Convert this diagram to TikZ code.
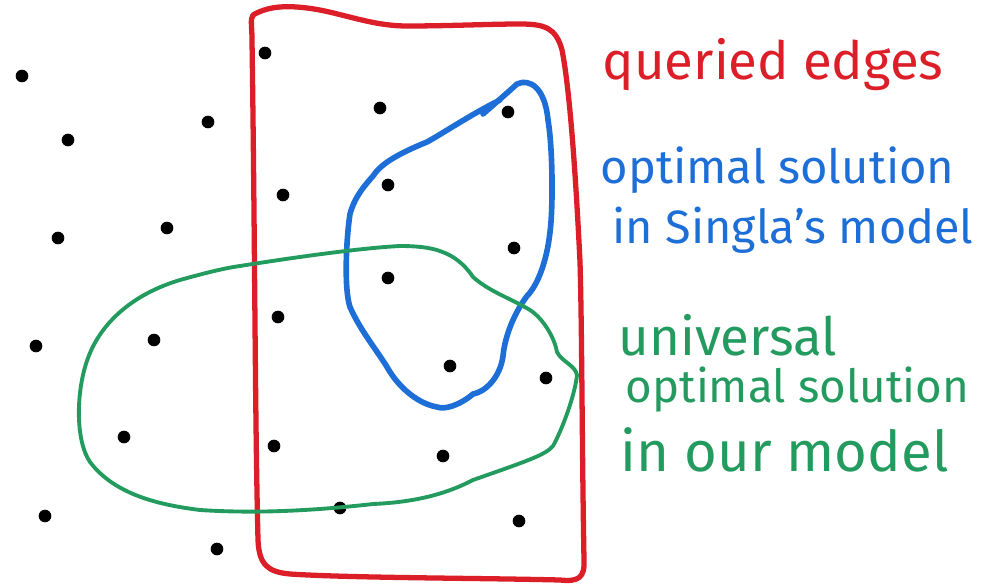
\documentclass[tikz,border=0pt]{standalone}
\usepackage{fontspec}
\setmainfont{Fira Sans}
\usepackage{tikz}
\usetikzlibrary{positioning}
\definecolor{queryRed}{RGB}{220,30,40}
\definecolor{singlaBlue}{RGB}{30,110,215}
\definecolor{ourGreen}{RGB}{35,155,95}

\tikzset{
  pt/.style={fill=black},
  sketch/.style={line width=1.3pt, line cap=round, line join=round},
  lbl/.style={anchor=west, inner sep=0pt},
  fs/.style={font=\fontsize{#1}{#1}\selectfont}
}

\begin{document}
\begin{tikzpicture}[x=0.01cm, y=-0.01cm]
    \useasboundingbox (0,0) rectangle (997,588);
    % the edges (dots)
    \foreach \p in {(265,53),(22,76),(380,108),(208,122),(508,112),(68,140),
                    (283,195),(388,185),(167,228),(58,238),(514,248),(388,278),
                    (278,317),(154,340),(36,346),(450,366),(546,378),(124,437),
                    (274,446),(443,456),(45,516),(340,508),(519,521),(217,549)}{
      \fill[pt] \p circle (1.8pt);}
    % queried edges
    \draw[sketch, queryRed, line width=1.5pt] (253,15) .. controls (270,5) and (290,6) .. (307,8)
      .. controls (340,12) and (370,26) .. (407,26)
      .. controls (450,26) and (490,24) .. (520,24)
      .. controls (545,24) and (556,28) .. (562,50)
      .. controls (570,90) and (576,180) .. (580,262)
      .. controls (582,330) and (582,450) .. (584,560)
      .. controls (585,578) and (578,582) .. (560,580)
      .. controls (480,578) and (350,578) .. (290,574)
      .. controls (268,572) and (259,565) .. (258,540)
      .. controls (255,420) and (255,250) .. (252,40)
      .. controls (252,25) and (250,20) .. (253,15);
    % optimal solution in Singla's model
    \draw[sketch, singlaBlue, line width=1.6pt] (483,114) .. controls (492,106) and (505,95) .. (517,84)
      .. controls (530,78) and (545,88) .. (548,120)
      .. controls (553,150) and (553,210) .. (550,232)
      .. controls (547,260) and (538,285) .. (527,296)
      .. controls (515,312) and (505,335) .. (503,356)
      .. controls (500,378) and (485,392) .. (473,394)
      .. controls (460,405) and (445,410) .. (437,407)
      .. controls (420,404) and (400,390) .. (387,367)
      .. controls (378,352) and (360,330) .. (350,307)
      .. controls (344,290) and (346,240) .. (350,214)
      .. controls (355,195) and (368,182) .. (373,176)
      .. controls (380,165) and (395,155) .. (427,142)
      .. controls (445,132) and (470,115) .. (500,100);
    % universal optimal solution in our model
    \draw[sketch, ourGreen, line width=1.1pt] (240,266) .. controls (290,258) and (360,248) .. (400,246)
      .. controls (430,246) and (455,250) .. (473,277)
      .. controls (490,292) and (510,298) .. (530,310)
      .. controls (545,320) and (555,340) .. (557,352)
      .. controls (562,362) and (575,365) .. (577,375)
      .. controls (575,395) and (562,430) .. (553,446)
      .. controls (545,455) and (530,460) .. (473,480)
      .. controls (450,492) and (420,502) .. (373,504)
      .. controls (320,510) and (260,514) .. (200,510)
      .. controls (160,505) and (115,495) .. (90,462)
      .. controls (75,440) and (76,390) .. (88,358)
      .. controls (100,325) and (130,295) .. (180,280)
      .. controls (205,273) and (225,268) .. (240,266);
    % legend
    \node[lbl, fs=15, queryRed] (lq) at (602,65) {queried edges};
    \node[lbl, fs=13.4, singlaBlue] (lb1) at (600,170) {optimal solution};
    \node[lbl, fs=13.3, singlaBlue] (lb2) at (612,230) {in Singla's model};
    \node[lbl, fs=15, ourGreen] (lg1) at (618,335) {universal};
    \node[lbl, fs=13, ourGreen] (lg2) at (625,390) {optimal solution};
    \node[lbl, fs=16, ourGreen] (lg3) at (620,450) {in our model};
\end{tikzpicture}
\end{document}
